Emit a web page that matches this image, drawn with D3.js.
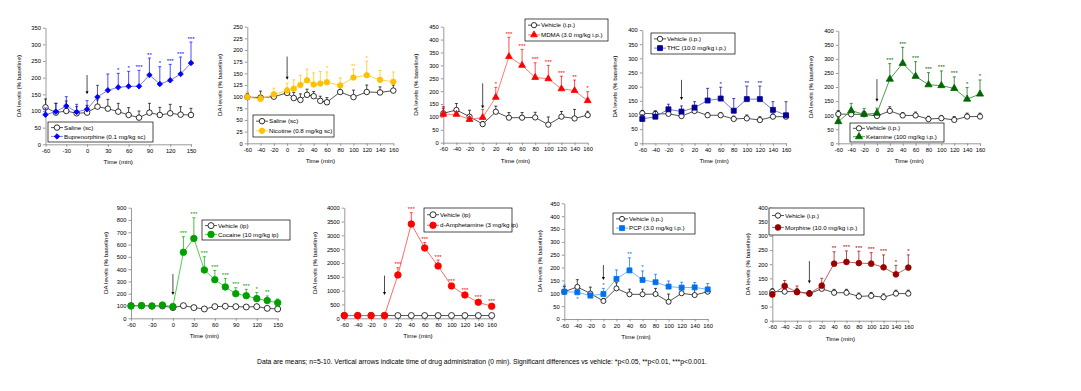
<!doctype html>
<html>
<head>
<meta charset="UTF-8">
<title>DA levels</title>
<style>
	body { margin: 0; background: #fff; }
	svg { display: block; font-family: "Liberation Sans", Arial, sans-serif; }
	.axis path, .axis line { stroke: #808080; stroke-width: 0.8; }
	.axis text { font-size: 5.8px; fill: #000; font-family: "Liberation Sans", Arial, sans-serif; }
	.lbl { font-size: 6.2px; fill: #000; }
</style>
</head>
<body>
<div id="chart"></div>
<script src="https://cdn.jsdelivr.net/npm/d3@7"></script>
<script>
	// sampling times (min)
	var time15 = [-60, -45, -30, -15, 0, 15, 30, 45, 60, 75, 90, 105, 120, 135, 150];
	var time20 = [-60, -40, -20, 0, 20, 40, 60, 80, 100, 120, 140, 160];
	var timeNic = [-60, -40, -20, 0, 10, 20, 30, 40, 50, 60, 80, 100, 120, 140, 160];
	var ticks15 = [-60, -30, 0, 30, 60, 90, 120, 150];
	var ticks20 = [-60, -40, -20, 0, 20, 40, 60, 80, 100, 120, 140, 160];

	// buprenorphine
	var bupVeh = [111, 95, 100, 93, 95, 113, 107, 98, 88, 80, 95, 88, 93, 89, 88];
	var bupVehErr = [25, 28, 30, 20, 22, 20, 28, 25, 22, 20, 28, 23, 27, 24, 20];
	var bupDrug = [89, 98, 115, 97, 105, 142, 162, 171, 174, 174, 208, 181, 192, 211, 244];
	var bupDrugErr = [20, 25, 28, 23, 26, 35, 49, 42, 45, 48, 51, 52, 48, 51, 63];
	var bupStars = ["", "", "", "", "", "", "", "*", "*", "***", "**", "*", "***", "***", "***"];
	var bupArrow = [208, 150];
	var bupLabels = ["Saline (sc)", "Buprenorphine (0.1 mg/kg sc)"];

	// nicotine
	var nicVeh = [99, 98, 100, 108, 97, 93, 104, 101, 91, 88, 110, 99, 110, 109, 113];
	var nicVehErr = [8, 14, 8, 10, 12, 13, 12, 10, 10, 10, 13, 15, 15, 12, 12];
	var nicDrug = [99, 95, 105, 113, 117, 125, 135, 126, 128, 131, 124, 141, 146, 136, 132];
	var nicDrugErr = [12, 10, 13, 16, 19, 21, 24, 25, 26, 22, 16, 18, 30, 20, 21];
	var nicStars = ["", "", "", "", "", "", "", "", "", "*", "", "**", "*", "", ""];
	var nicArrow = [186, 136];
	var nicLabels = ["Saline (sc)", "Nicotine (0.8 mg/kg sc)"];

	// MDMA
	var mdmaVeh = [114, 127, 101, 72, 120, 97, 97, 98, 70, 101, 94, 107];
	var mdmaVehErr = [20, 25, 25, 10, 22, 20, 20, 20, 30, 20, 35, 15];
	var mdmaDrug = [110, 110, 90, 98, 176, 334, 300, 253, 248, 209, 202, 163];
	var mdmaDrugErr = [30, 10, 10, 31, 39, 75, 62, 57, 52, 49, 41, 35];
	var mdmaStars = ["", "", "", "", "*", "***", "***", "***", "***", "***", "**", "*"];
	var mdmaArrow = [230, 133];
	var mdmaLabels = ["Vehicle (i.p.)", "MDMA (3.0 mg/kg i.p.)"];

	// THC
	var thcVeh = [106, 104, 104, 96, 114, 99, 99, 86, 88, 82, 94, 94];
	var thcVehErr = [10, 10, 10, 10, 12, 10, 10, 10, 12, 12, 10, 8];
	var thcDrug = [86, 94, 120, 112, 126, 151, 158, 115, 156, 156, 118, 99];
	var thcDrugErr = [15, 20, 18, 20, 21, 43, 40, 43, 46, 46, 29, 48];
	var thcStars = ["", "", "", "", "", "", "*", "", "**", "**", "", ""];
	var thcArrow = [224, 153];
	var thcLabels = ["Vehicle (i.p.)", "THC (10.0 mg/kg i.p.)"];

	// ketamine
	var ketVeh = [104, 103, 103, 97, 115, 99, 99, 86, 89, 83, 95, 95];
	var ketVehErr = [12, 10, 10, 10, 15, 10, 12, 10, 10, 12, 12, 12];
	var ketDrug = [77, 116, 103, 107, 228, 284, 238, 208, 205, 195, 157, 175];
	var ketDrugErr = [15, 26, 21, 18, 55, 57, 52, 43, 52, 41, 41, 50];
	var ketStars = ["", "", "", "", "***", "***", "***", "***", "***", "***", "*", "*"];
	var ketArrow = [228, 148];
	var ketLabels = ["Vehicle (i.p.)", "Ketamine (100 mg/kg i.p.)"];

	// cocaine
	var cocVeh = [103, 103, 100, 100, 87, 103, 87, 76, 95, 98, 95, 92, 95, 81, 76];
	var cocVehErr = [15, 15, 15, 15, 20, 15, 10, 10, 10, 10, 10, 10, 10, 10, 10];
	var cocDrug = [100, 103, 100, 108, 95, 537, 650, 393, 314, 255, 200, 184, 160, 144, 127];
	var cocDrugErr = [15, 15, 15, 15, 15, 127, 168, 108, 76, 70, 49, 52, 51, 38, 30];
	var cocStars = ["", "", "", "", "", "***", "***", "***", "***", "***", "***", "***", "*", "**", ""];
	var cocArrow = [360, 190];
	var cocLabels = ["Vehicle (ip)", "Cocaine (10 mg/kg ip)"];

	// d-amphetamine
	var amphVeh = [100, 100, 100, 100, 100, 100, 100, 100, 100, 100, 100, 100];
	var amphVehErr = [30, 30, 30, 30, 30, 30, 30, 30, 30, 30, 30, 30];
	var amphDrug = [100, 100, 100, 100, 1566, 3410, 2542, 1892, 1169, 843, 578, 434];
	var amphDrugErr = [40, 40, 40, 40, 265, 410, 200, 215, 60, 60, 60, 60];
	var amphStars = ["", "", "", "", "***", "***", "***", "***", "***", "***", "***", "***"];
	var amphArrow = [1542, 843];
	var amphLabels = ["Vehicle (ip)", "d-Amphetamine (3 mg/kg ip)"];

	// PCP
	var pcpVeh = [106, 125, 99, 70, 119, 96, 96, 97, 67, 100, 93, 106];
	var pcpVehErr = [20, 28, 25, 10, 22, 20, 20, 22, 30, 20, 30, 15];
	var pcpDrug = [106, 104, 91, 97, 156, 189, 152, 143, 126, 122, 123, 115];
	var pcpDrugErr = [26, 10, 10, 22, 35, 49, 35, 31, 22, 21, 19, 23];
	var pcpStars = ["", "", "", "*", "", "**", "*", "", "", "", "", ""];
	var pcpStarsBelow = ["", "*", "", "", "", "", "", "", "", "", "", ""];
	var pcpArrow = [210, 152];
	var pcpLabels = ["Vehicle (i.p.)", "PCP (3.0 mg/kg i.p.)"];

	// morphine
	var morVeh = [103, 103, 103, 96, 113, 99, 99, 86, 88, 83, 96, 96];
	var morVehErr = [10, 10, 10, 10, 12, 12, 12, 12, 12, 12, 12, 12];
	var morDrug = [93, 123, 101, 96, 124, 202, 208, 204, 202, 189, 164, 188];
	var morDrugErr = [10, 19, 22, 10, 26, 42, 39, 42, 39, 44, 32, 45];
	var morStars = ["", "", "", "", "", "**", "***", "***", "***", "***", "*", "*"];
	var morArrow = [211, 132];
	var morLabels = ["Vehicle (i.p.)", "Morphine (10.0 mg/kg i.p.)"];

	var caption = "Data are means; n=5-10. Vertical arrows indicate time of drug administration (0 min). Significant differences vs vehicle: *p<0.05, **p<0.01, ***p<0.001.";

	// layout of each panel (pixels); ms = drug marker area, vs = vehicle marker area
	var panels = [
		{x0: 45.5, x1: 191, yT: 27.7, yB: 144.3, xDom: [-60, 150], xTicks: ticks15, yMax: 350, yStep: 50, time: time15,
			veh: bupVeh, vehErr: bupVehErr, drug: bupDrug, drugErr: bupDrugErr, stars: bupStars, arrow: bupArrow, labels: bupLabels,
			color: "#0000ff", line: "#6b6bff", marker: "diamond", ms: 15, vs: 24, legend: [48, 122, 105, 20], ylab: 25},
		{x0: 247.3, x1: 393.3, yT: 26.7, yB: 143.3, xDom: [-60, 160], xTicks: ticks20, yMax: 250, yStep: 25, time: timeNic,
			veh: nicVeh, vehErr: nicVehErr, drug: nicDrug, drugErr: nicDrugErr, stars: nicStars, arrow: nicArrow, labels: nicLabels,
			color: "#ffc000", line: "#ffd040", marker: "circle", ms: 24, vs: 24, legend: [253, 115, 81, 22], ylab: 25},
		{x0: 443.3, x1: 587.7, yT: 26.7, yB: 142.7, xDom: [-60, 160], xTicks: ticks20, yMax: 450, yStep: 50, time: time20,
			veh: mdmaVeh, vehErr: mdmaVehErr, drug: mdmaDrug, drugErr: mdmaDrugErr, stars: mdmaStars, arrow: mdmaArrow, labels: mdmaLabels,
			color: "#ff0000", line: "#ff6a6a", marker: "triangle", ms: 20, vs: 22, legend: [525, 19, 83, 22], ylab: 25},
		{x0: 642.3, x1: 786, yT: 30, yB: 143.3, xDom: [-60, 160], xTicks: ticks20, yMax: 400, yStep: 50, time: time20,
			veh: thcVeh, vehErr: thcVehErr, drug: thcDrug, drugErr: thcDrugErr, stars: thcStars, arrow: thcArrow, labels: thcLabels,
			color: "#000099", line: "#6a6acc", marker: "square", ms: 25, vs: 22, legend: [651, 33, 84, 21], ylab: 25},
		{x0: 838.3, x1: 980, yT: 30.7, yB: 143.3, xDom: [-60, 160], xTicks: ticks20, yMax: 400, yStep: 50, time: time20,
			veh: ketVeh, vehErr: ketVehErr, drug: ketDrug, drugErr: ketDrugErr, stars: ketStars, arrow: ketArrow, labels: ketLabels,
			color: "#006600", line: "#3a923a", marker: "triangle", ms: 22, vs: 22, legend: [850, 123, 94, 19], ylab: 25},
		{x0: 131, x1: 277.7, yT: 207.7, yB: 318.3, xDom: [-60, 150], xTicks: ticks15, yMax: 900, yStep: 100, time: time15,
			veh: cocVeh, vehErr: cocVehErr, drug: cocDrug, drugErr: cocDrugErr, stars: cocStars, arrow: cocArrow, labels: cocLabels,
			color: "#00a000", line: "#40c840", marker: "circle", ms: 34, vs: 28, legend: [202, 220, 88, 20], ylab: 23},
		{x0: 344.3, x1: 491.7, yT: 207.7, yB: 318.3, xDom: [-60, 160], xTicks: ticks20, yMax: 4000, yStep: 500, time: time20,
			veh: amphVeh, vehErr: amphVehErr, drug: amphDrug, drugErr: amphDrugErr, stars: amphStars, arrow: amphArrow, labels: amphLabels,
			color: "#ff0000", line: "#ff5a5a", marker: "circle", ms: 34, vs: 28, legend: [424, 208, 88, 24], ylab: 27},
		{x0: 564.3, x1: 707.7, yT: 203.3, yB: 319, xDom: [-60, 160], xTicks: ticks20, yMax: 450, yStep: 50, time: time20,
			veh: pcpVeh, vehErr: pcpVehErr, drug: pcpDrug, drugErr: pcpDrugErr, stars: pcpStars, below: pcpStarsBelow, arrow: pcpArrow, labels: pcpLabels,
			color: "#0070f0", line: "#6aaaf5", marker: "square", ms: 25, vs: 20, legend: [613, 213, 82, 21], ylab: 22},
		{x0: 772.3, x1: 908.3, yT: 207.7, yB: 320.7, xDom: [-60, 160], xTicks: ticks20, yMax: 400, yStep: 50, time: time20,
			veh: morVeh, vehErr: morVehErr, drug: morDrug, drugErr: morDrugErr, stars: morStars, arrow: morArrow, labels: morLabels,
			color: "#990000", line: "#b85050", marker: "circle", ms: 26, vs: 22, legend: [769, 208, 95, 27], ylab: 22}
	];

	var svg = d3.select("#chart").append("svg").attr("width", 1081).attr("height", 391);

	var symType = {circle: d3.symbolCircle, square: d3.symbolSquare, triangle: d3.symbolTriangle, diamond: d3.symbolSquare};
	var plain = function (d) { return String(d); }; // keep ASCII hyphen on negatives

	function drawSeries(g, x, y, time, vals, errs, col, lineCol, path, rot, fill) {
		var cap = 1.5;
		g.selectAll(null).data(vals).enter().append("path")
			.attr("d", function (d, i) {
				var xx = x(time[i]), y0 = y(d), y1 = y(d + errs[i]);
				return "M" + xx + "," + y0 + "V" + y1 + "M" + (xx - cap) + "," + y1 + "H" + (xx + cap);
			})
			.attr("stroke", col).attr("stroke-width", 0.7).attr("fill", "none");
		g.append("path")
			.datum(vals)
			.attr("d", d3.line().x(function (d, i) { return x(time[i]); }).y(function (d) { return y(d); }))
			.attr("fill", "none").attr("stroke", lineCol).attr("stroke-width", 0.9);
		g.selectAll(null).data(vals).enter().append("path")
			.attr("d", path)
			.attr("transform", function (d, i) { return "translate(" + x(time[i]) + "," + y(d) + ") rotate(" + rot + ")"; })
			.attr("fill", fill).attr("stroke", col).attr("stroke-width", 0.8);
	}

	panels.forEach(function (p) {
		var g = svg.append("g");
		var x = d3.scaleLinear().domain(p.xDom).range([p.x0, p.x1]);
		var y = d3.scaleLinear().domain([0, p.yMax]).range([p.yB, p.yT]);
		var dPath = d3.symbol().type(symType[p.marker]).size(p.ms)();
		var vPath = d3.symbol().type(d3.symbolCircle).size(p.vs)();
		var rot = p.marker === "diamond" ? 45 : 0;

		g.append("g").attr("class", "axis").attr("transform", "translate(" + p.x0 + ",0)")
			.call(d3.axisLeft(y).tickValues(d3.range(0, p.yMax + 1, p.yStep)).tickFormat(plain)
				.tickSize(2.5).tickSizeOuter(0).tickPadding(2));
		g.append("g").attr("class", "axis").attr("transform", "translate(0," + p.yB + ")")
			.call(d3.axisBottom(x).tickValues(p.xTicks).tickFormat(plain)
				.tickSize(2.5).tickSizeOuter(0).tickPadding(2));

		g.append("text").attr("class", "lbl")
			.attr("transform", "translate(" + (p.x0 - p.ylab) + "," + ((p.yT + p.yB) / 2) + ") rotate(-90)")
			.attr("text-anchor", "middle").text("DA levels (% baseline)");
		g.append("text").attr("class", "lbl")
			.attr("x", (p.x0 + p.x1) / 2).attr("y", p.yB + 20)
			.attr("text-anchor", "middle").text("Time (min)");

		// drug administration arrow
		var ax = x(0), a0 = y(p.arrow[0]), a1 = y(p.arrow[1]);
		g.append("line").attr("x1", ax).attr("x2", ax).attr("y1", a0).attr("y2", a1 - 2)
			.attr("stroke", "#000").attr("stroke-width", 0.7);
		g.append("path").attr("d", "M" + (ax - 1.5) + "," + (a1 - 3) + "L" + (ax + 1.5) + "," + (a1 - 3) + "L" + ax + "," + a1 + "Z")
			.attr("fill", "#000");

		drawSeries(g, x, y, p.time, p.veh, p.vehErr, "#000", "#404040", vPath, 0, "#fff");
		drawSeries(g, x, y, p.time, p.drug, p.drugErr, p.color, p.line, dPath, rot, p.color);

		g.selectAll(null).data(p.stars).enter().append("text")
			.attr("x", function (d, i) { return x(p.time[i]); })
			.attr("y", function (d, i) { return y(p.drug[i] + p.drugErr[i]) - 1.5; })
			.attr("text-anchor", "middle").attr("font-size", "6px").attr("fill", p.color)
			.text(function (d) { return d; });
		if (p.below) {
			g.selectAll(null).data(p.below).enter().append("text")
				.attr("x", function (d, i) { return x(p.time[i]); })
				.attr("y", function (d, i) { return y(p.drug[i]) + 9; })
				.attr("text-anchor", "middle").attr("font-size", "6px").attr("fill", p.color)
				.text(function (d) { return d; });
		}

		// legend
		var L = p.legend;
		g.append("rect").attr("x", L[0]).attr("y", L[1]).attr("width", L[2]).attr("height", L[3])
			.attr("fill", "#fff").attr("stroke", "#000").attr("stroke-width", 0.7);
		[0, 1].forEach(function (k) {
			var ly = L[1] + L[3] * (k === 0 ? 0.28 : 0.72);
			var col = k === 0 ? "#000" : p.color;
			g.append("line").attr("x1", L[0] + 3).attr("x2", L[0] + 15).attr("y1", ly).attr("y2", ly)
				.attr("stroke", k === 0 ? "#404040" : p.line).attr("stroke-width", 0.9);
			g.append("path").attr("d", k === 0 ? vPath : dPath)
				.attr("transform", "translate(" + (L[0] + 9) + "," + ly + ") rotate(" + (k === 0 ? 0 : rot) + ")")
				.attr("fill", k === 0 ? "#fff" : p.color).attr("stroke", col).attr("stroke-width", 0.8);
			g.append("text").attr("class", "lbl").attr("x", L[0] + 16).attr("y", ly + 2.1)
				.text(p.labels[k]);
		});
	});

	svg.append("text").attr("x", 257).attr("y", 363.5).attr("font-size", "6.8px").attr("fill", "#000")
		.text(caption);
</script>
</body>
</html>
